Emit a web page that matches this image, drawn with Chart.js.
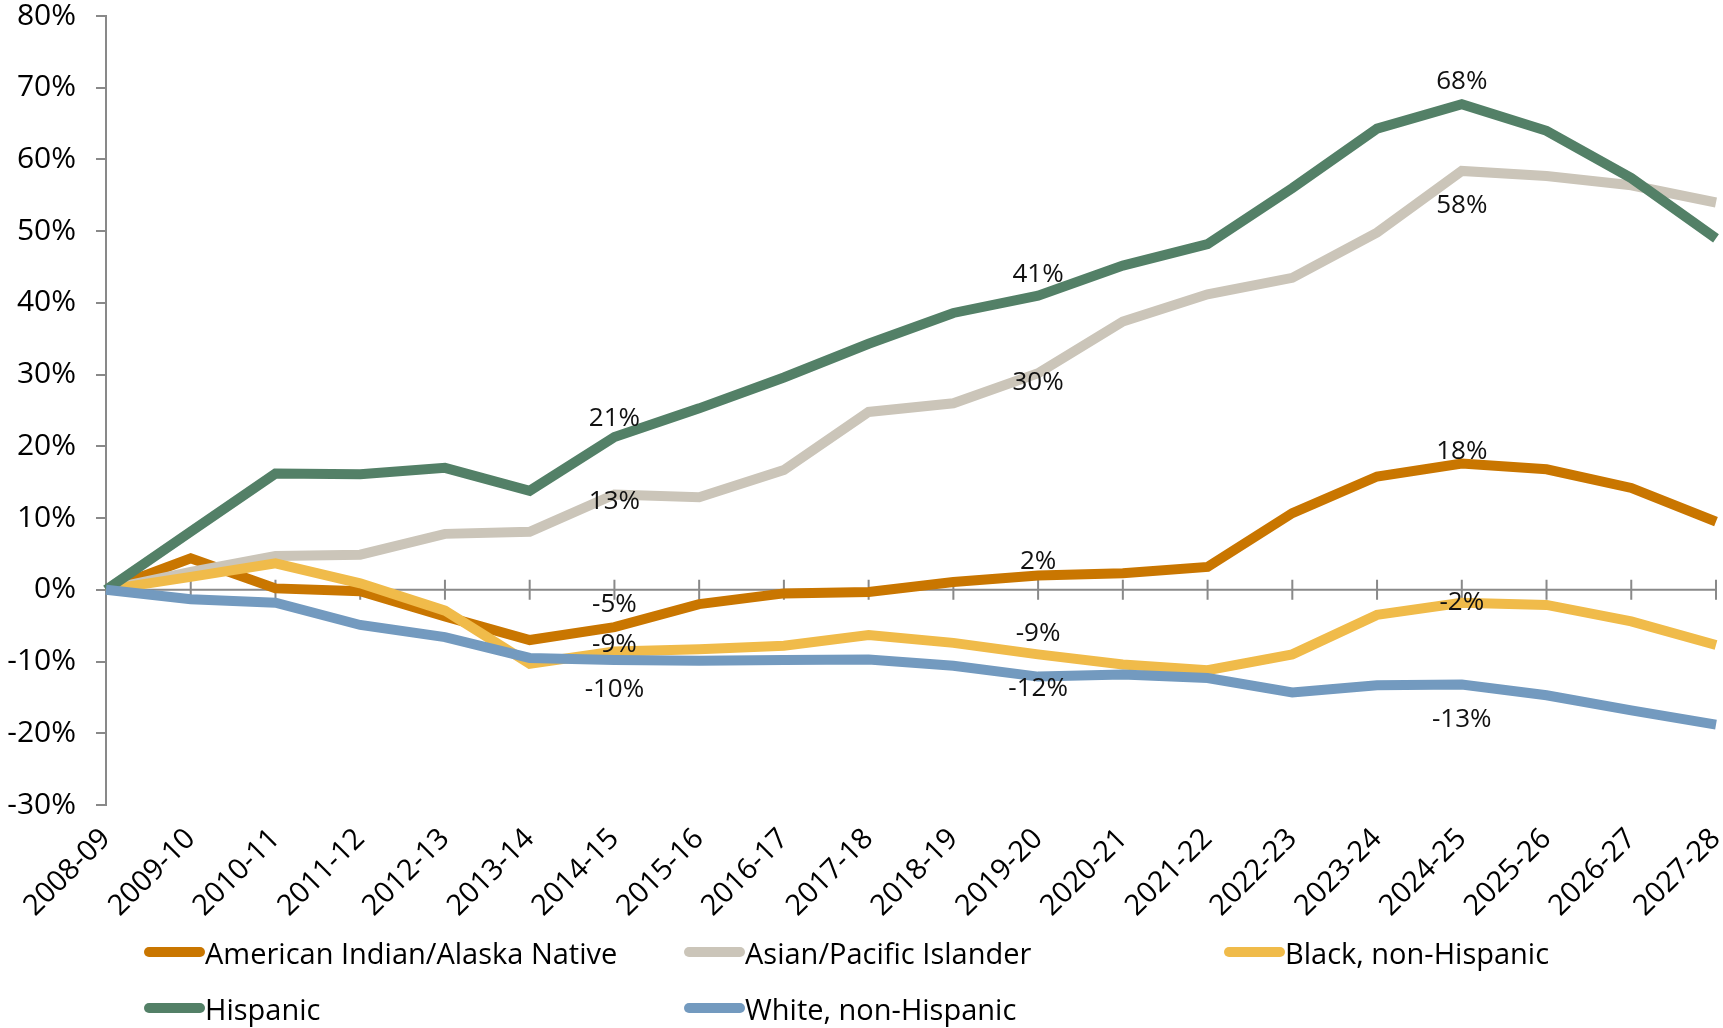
<!DOCTYPE html>
<html>
<head>
<meta charset="utf-8">
<script src="https://cdn.jsdelivr.net/npm/chart.js@4.4.1/dist/chart.umd.min.js"></script>
<style>
body { margin: 0; background: #fff; font-family: 'Open Sans', sans-serif; }
#wrap { position: relative; width: 1723px; height: 1028px; }
#legend { position: absolute; left: 144px; top: 924px; display: grid; grid-template-columns: 540px 540px 500px; grid-auto-rows: 56px; }
.item { display: flex; align-items: center; font-size: 29px; color: #000; white-space: nowrap; }
.sw { width: 61px; height: 10px; border-radius: 5px; flex: none; }
</style>
</head>
<body>
<div id="wrap">
<canvas id="myChart" width="1723" height="930"></canvas>
<div id="legend"></div>
</div>
<script>
var years = ['2008-09', '2009-10', '2010-11', '2011-12', '2012-13', '2013-14', '2014-15',
    '2015-16', '2016-17', '2017-18', '2018-19', '2019-20', '2020-21', '2021-22',
    '2022-23', '2023-24', '2024-25', '2025-26', '2026-27', '2027-28'];

// percent change since 2008-09
var amIndian = [0, 4.4, 0.2, -0.2, -3.7, -7.0, -5.2, -2.0, -0.5, -0.3, 1.1, 2.0, 2.3, 3.2, 10.7, 15.8, 17.6, 16.8, 14.2, 9.5];
var asian = [0, 2.5, 4.7, 4.9, 7.8, 8.1, 13.3, 12.9, 16.7, 24.8, 26.0, 30.2, 37.4, 41.2, 43.5, 49.8, 58.4, 57.7, 56.4, 54.0];
var black = [0, 1.8, 3.7, 0.9, -2.9, -10.3, -8.6, -8.3, -7.8, -6.3, -7.4, -9.0, -10.4, -11.2, -9.0, -3.5, -1.8, -2.1, -4.4, -7.7];
var hispanic = [0, 8.1, 16.2, 16.1, 17.0, 13.8, 21.3, 25.3, 29.6, 34.3, 38.6, 41.0, 45.2, 48.2, 56.0, 64.3, 67.7, 64.0, 57.4, 49.0];
var white = [0, -1.3, -1.8, -4.9, -6.6, -9.5, -9.8, -9.9, -9.8, -9.7, -10.6, -12.1, -11.8, -12.3, -14.3, -13.3, -13.2, -14.7, -16.8, -18.8];

var labelIdx = [6, 11, 16];
var yMin = -30, yMax = 80, yStep = 10;

var zeroAxis = {
    id: 'zeroAxis',
    beforeDatasetsDraw: function(chart) {
        var ctx = chart.ctx, x = chart.scales.x, y0 = chart.scales.y.getPixelForValue(0);
        ctx.save();
        ctx.strokeStyle = '#898989';
        ctx.lineWidth = 2;
        ctx.beginPath();
        ctx.moveTo(chart.chartArea.left, y0);
        ctx.lineTo(chart.chartArea.right, y0);
        for (var i = 1; i < years.length; i++) {
            var px = x.getPixelForTick(i);
            ctx.moveTo(px, y0 - 10);
            ctx.lineTo(px, y0 + 10);
        }
        ctx.stroke();
        ctx.restore();
    }
};

var valueLabels = {
    id: 'valueLabels',
    afterDatasetsDraw: function(chart) {
        var ctx = chart.ctx;
        ctx.save();
        ctx.font = '26px "Open Sans"';
        ctx.fillStyle = '#111';
        ctx.textAlign = 'center';
        ctx.textBaseline = 'middle';
        chart.data.datasets.forEach(function(ds, di) {
            var meta = chart.getDatasetMeta(di);
            labelIdx.forEach(function(idx, k) {
                var pt = meta.data[idx];
                ctx.fillText(Math.round(ds.data[idx]) + '%', pt.x, pt.y + ds.labelOffsets[k]);
            });
        });
        ctx.restore();
    }
};

function series(label, data, color, order, offsets) {
    return {
        label: label,
        data: data,
        borderColor: color,
        backgroundColor: color,
        borderWidth: 10,
        pointRadius: 0,
        fill: false,
        tension: 0,
        order: order,
        labelOffsets: offsets
    };
}

var ctx = document.getElementById('myChart').getContext('2d');
var myChart = new Chart(ctx, {
    type: 'line',
    data: {
        labels: years,
        datasets: [
            series('American Indian/Alaska Native', amIndian, '#C97600', 4, [-23, -14, -12]),
            series('Asian/Pacific Islander', asian, '#CBC5B9', 3, [7, 9, 35]),
            series('Black, non-Hispanic', black, '#F0BB4A', 2, [-7, -21, 0]),
            series('Hispanic', hispanic, '#538067', 1, [-18, -21, -23]),
            series('White, non-Hispanic', white, '#739ABF', 0, [29, 12, 35]),
        ],
    },
    options: {
        responsive: false,
        animation: false,
        layout: { padding: { top: 16, right: 7, left: 0, bottom: 0 } },
        plugins: { legend: { display: false }, tooltip: { enabled: false } },
        scales: {
            x: {
                grid: { display: false, drawTicks: false },
                border: { display: false },
                ticks: {
                    autoSkip: false, minRotation: 45, maxRotation: 45, padding: 17,
                    color: '#000', font: { family: 'Open Sans', size: 29 }
                },
                afterFit: function(s) { s.height = 125; s.paddingLeft = 0; s.paddingRight = 0; }
            },
            y: {
                min: yMin, max: yMax,
                ticks: {
                    stepSize: yStep, padding: 20, color: '#000',
                    font: { family: 'Open Sans', size: 30, lineHeight: 1 },
                    callback: function(v) { return v + '%'; }
                },
                grid: { drawOnChartArea: false, drawTicks: true, tickLength: 10, color: '#898989', lineWidth: 2 },
                border: { color: '#898989', width: 2 },
                afterFit: function(s) { s.width = 106; s.paddingTop = 0; s.paddingBottom = 0; }
            }
        }
    },
    plugins: [zeroAxis, valueLabels]
});

var legend = document.getElementById('legend');
myChart.data.datasets.forEach(function(ds) {
    var item = document.createElement('div');
    item.className = 'item';
    var sw = document.createElement('span');
    sw.className = 'sw';
    sw.style.background = ds.borderColor;
    item.appendChild(sw);
    item.appendChild(document.createTextNode(ds.label));
    legend.appendChild(item);
});
</script>
</body>
</html>
